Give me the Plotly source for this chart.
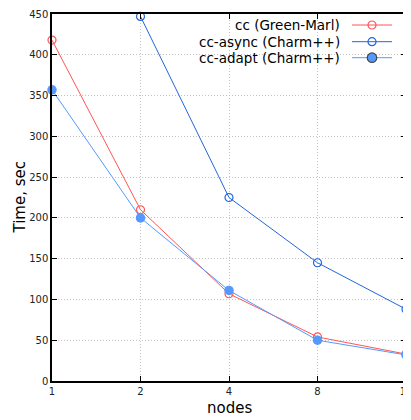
import plotly.graph_objects as go

nodes = [1, 2, 4, 8, 16]
cc_greenmarl = [418, 210, 107, 54, 33]
cc_async_nodes = [2, 4, 8, 16]
cc_async = [447, 225, 145, 88]
cc_adapt = [357, 200, 111, 50, 32]

series_names = ["cc (Green-Marl)", "cc-async (Charm++)", "cc-adapt (Charm++)"]
colors = ["#ff5555", "#2266dd", "#5599ff"]
x_ticks = [1, 2, 4, 8, 16]
y_ticks = [0, 50, 100, 150, 200, 250, 300, 350, 400, 450]

FONT = "DejaVu Sans"

fig = go.Figure()
fig.add_trace(go.Scatter(x=nodes, y=cc_greenmarl, mode="lines+markers",
                         line=dict(color=colors[0], width=1),
                         marker=dict(symbol="circle-open", size=8, color=colors[0], line=dict(width=1.2)),
                         cliponaxis=False, showlegend=False))
fig.add_trace(go.Scatter(x=cc_async_nodes, y=cc_async, mode="lines+markers",
                         line=dict(color=colors[1], width=1),
                         marker=dict(symbol="circle-open", size=8, color=colors[1], line=dict(width=1.2)),
                         cliponaxis=False, showlegend=False))
fig.add_trace(go.Scatter(x=nodes, y=cc_adapt, mode="lines+markers",
                         line=dict(color=colors[2], width=1),
                         marker=dict(symbol="circle", size=9.5, color=colors[2]),
                         cliponaxis=False, showlegend=False))

# page offset (default body margin of the html page)
OFF = 8
# desired plot box in page pixels
PL, PR, PT, PB = 52, 406, 14, 381
W, H = 411 - OFF, 420 - OFF
ml, mt = PL - OFF, PT - OFF
mr, mb = W - (PR - OFF), H - (PB - OFF)
pw, ph = PR - PL, PB - PT

def px_x(px):
    return (px - PL) / pw
def px_y(py):
    return 1 - (py - PT) / ph

# custom gnuplot-style legend (text left, sample right) on an overlay axis
rows = [25, 41.7, 57.7]
symbols = ["circle-open", "circle-open", "circle"]
sizes = [8, 8, 9.5]
for i, name in enumerate(series_names):
    yy = px_y(rows[i])
    fig.add_trace(go.Scatter(x=[px_x(352), px_x(392)], y=[yy, yy], mode="lines",
                             line=dict(color=colors[i], width=1), xaxis="x2", yaxis="y2",
                             showlegend=False, hoverinfo="skip"))
    fig.add_trace(go.Scatter(x=[px_x(372)], y=[yy], mode="markers",
                             marker=dict(symbol=symbols[i], size=sizes[i], color=colors[i], line=dict(width=1.2)),
                             xaxis="x2", yaxis="y2", showlegend=False, hoverinfo="skip"))
    fig.add_annotation(x=px_x(342), y=yy, xref="x2", yref="y2", text=name, showarrow=False,
                       xanchor="right", yanchor="middle", font=dict(family=FONT, size=13.5, color="#000"))

axis_common = dict(showline=True, linecolor="#000", linewidth=1.5, mirror="allticks",
                   ticks="inside", ticklen=5, tickcolor="#000", tickwidth=1,
                   showgrid=True, gridcolor="#c4c4c4", griddash="1px,2px", gridwidth=1,
                   zeroline=False, automargin=False,
                   tickfont=dict(family=FONT, size=10, color="#222"))

fig.update_layout(
    width=W, height=H,
    margin=dict(l=ml, r=mr, t=mt, b=mb, autoexpand=False),
    paper_bgcolor="white", plot_bgcolor="white",
    xaxis=dict(type="log", range=[0, 1.2041199826559248], tickvals=x_ticks,
               ticktext=[str(v) for v in x_ticks], ticklabeloverflow="allow",
               **axis_common),
    yaxis=dict(range=[0, 450], tickvals=y_ticks, **axis_common),
    xaxis2=dict(overlaying="x", range=[0, 1], visible=False, fixedrange=True),
    yaxis2=dict(overlaying="y", range=[0, 1], visible=False, fixedrange=True),
    showlegend=False,
)
fig.add_annotation(x=0.5, y=-(408 - PB) / ph, xref="paper", yref="paper", text="nodes",
                   showarrow=False, xanchor="center", yanchor="middle",
                   font=dict(family=FONT, size=15, color="#000"))
fig.add_annotation(x=-(PL - 19) / pw, y=0.5, xref="paper", yref="paper", text="Time, sec",
                   showarrow=False, xanchor="center", yanchor="middle", textangle=-90,
                   font=dict(family=FONT, size=15, color="#000"))

fig.write_html("out.html")
